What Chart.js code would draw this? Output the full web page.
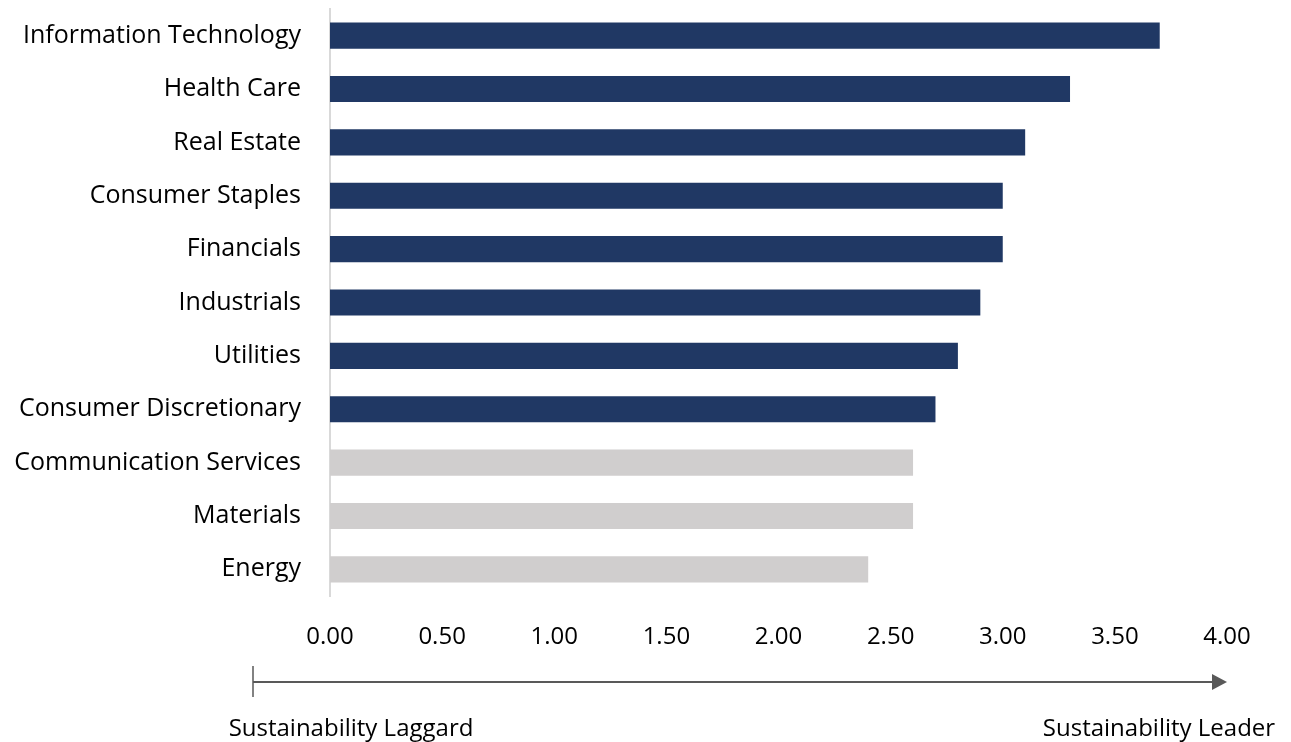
<!DOCTYPE html>
<html lang="en">
<head>
    <meta charset="UTF-8">
    <title>Sector Sustainability Scores</title>
    <script src="https://cdn.jsdelivr.net/npm/chart.js"></script>
    <style>
        html, body { margin: 0; padding: 0; background: #fff; }
        .chart-container { position: relative; width: 1291px; height: 742px; }
    </style>
</head>
<body>
    <div class="chart-container">
        <canvas id="sectorChart"></canvas>
    </div>

    <script>
        const sectors = ['Information Technology', 'Health Care', 'Real Estate', 'Consumer Staples',
            'Financials', 'Industrials', 'Utilities', 'Consumer Discretionary',
            'Communication Services', 'Materials', 'Energy'];
        const scores = [3.7, 3.3, 3.1, 3.0, 3.0, 2.9, 2.8, 2.7, 2.6, 2.6, 2.4];
        const xTicks = [0, 0.5, 1, 1.5, 2, 2.5, 3, 3.5, 4];
        const leaderCount = 8;
        const endLabels = ['Sustainability Laggard', 'Sustainability Leader'];

        const fontFamily = '"Open Sans", Lato, sans-serif';

        // arrow under the axis: laggard -> leader
        const arrowPlugin = {
            id: 'arrow',
            afterDraw(chart) {
                const ctx = chart.ctx;
                const area = chart.chartArea;
                const x0 = area.left - 77;
                const x1 = area.right;
                const y = 682;
                ctx.save();
                ctx.strokeStyle = '#595959';
                ctx.fillStyle = '#595959';
                ctx.lineWidth = 2;
                ctx.beginPath();
                ctx.moveTo(x0, y);
                ctx.lineTo(x1 - 12, y);
                ctx.stroke();
                ctx.lineWidth = 1.5;
                ctx.beginPath();
                ctx.moveTo(x0, y - 16);
                ctx.lineTo(x0, y + 15);
                ctx.stroke();
                ctx.beginPath();
                ctx.moveTo(x1, y);
                ctx.lineTo(x1 - 15, y - 8);
                ctx.lineTo(x1 - 15, y + 8);
                ctx.closePath();
                ctx.fill();

                ctx.fillStyle = '#000';
                ctx.font = '24px ' + fontFamily;
                ctx.textBaseline = 'middle';
                ctx.textAlign = 'center';
                ctx.fillText(endLabels[0], x0 + 98, 729);
                ctx.fillText(endLabels[1], x1 - 68, 729);
                ctx.restore();
            }
        };

        const ctx = document.getElementById('sectorChart').getContext('2d');
        new Chart(ctx, {
            type: 'bar',
            data: {
                labels: sectors,
                datasets: [{
                    data: scores,
                    backgroundColor: c => c.dataIndex < leaderCount ? '#203864' : '#D0CECE',
                    barPercentage: 0.49,
                    categoryPercentage: 1
                }]
            },
            options: {
                indexAxis: 'y',
                responsive: true,
                maintainAspectRatio: false,
                animation: false,
                layout: { padding: { top: 9, right: 64, left: 0, bottom: 0 } },
                plugins: {
                    legend: { display: false },
                    tooltip: { enabled: false }
                },
                scales: {
                    x: {
                        min: 0,
                        max: 4,
                        afterBuildTicks: s => { s.ticks = xTicks.map(v => ({ value: v })); },
                        afterFit: s => { s.height = 146; },
                        grid: { display: false, drawTicks: false },
                        border: { display: false },
                        ticks: {
                            padding: 27,
                            color: '#000',
                            font: { family: fontFamily, size: 24 },
                            callback: v => Number(v).toFixed(2),
                            maxRotation: 0
                        }
                    },
                    y: {
                        // fixed width, and no extra label padding above/below the plot
                        afterFit: s => { s.width = 330; s.paddingTop = 0; s.paddingBottom = 0; },
                        grid: { display: false, drawTicks: false },
                        border: { display: true, color: '#D9D9D9', width: 2 },
                        ticks: {
                            padding: 29,
                            color: '#000',
                            font: { family: fontFamily, size: 25 }
                        }
                    }
                }
            },
            plugins: [arrowPlugin]
        });
    </script>
</body>
</html>
